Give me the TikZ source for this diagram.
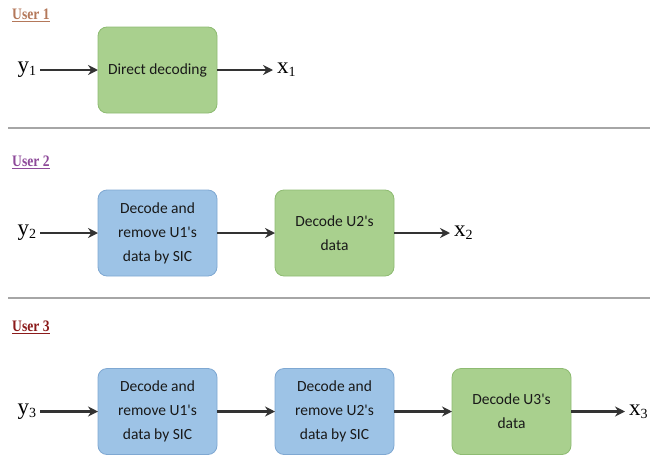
\documentclass[tikz,border=0pt]{standalone}
\usepackage{fontspec}
\setmainfont{Liberation Serif}
\newfontfamily\boxfont{Carlito}
\usetikzlibrary{positioning,arrows.meta}

\definecolor{boxgreen}{HTML}{A9D08E}
\definecolor{greenline}{HTML}{8EBB72}
\definecolor{boxblue}{HTML}{9DC3E6}
\definecolor{blueline}{HTML}{7FA8D2}
\definecolor{userone}{HTML}{B4785A}
\definecolor{usertwo}{HTML}{8E4A9A}
\definecolor{userthree}{HTML}{8B1A1A}
\definecolor{rulegray}{HTML}{A6A6A6}

\newcommand{\sigl}[2]{#1\raisebox{-3pt}{\fontsize{14}{14}\selectfont #2}}
\newcommand{\userhead}[1]{\scalebox{0.85}[1]{\underline{#1}}}

\begin{document}
\begin{tikzpicture}[x=1pt,y=-1pt,
      greenbox/.style={draw=greenline,fill=boxgreen,rounded corners=9pt,minimum width=119pt,
        minimum height=86pt,align=center,font=\boxfont\fontsize{15.5}{24}\selectfont,
        text=black!90,inner sep=0pt,outer sep=0pt,line width=0.8pt},
      bluebox/.style={greenbox,draw=blueline,fill=boxblue},
      sig/.style={font=\fontsize{23}{23}\selectfont,inner sep=0pt,outer sep=4pt},
      flow/.style={line width=2.6pt,draw=black!80,-{Stealth[length=10pt,width=10pt]}},
      userlab/.style={anchor=west,font=\bfseries\fontsize{16}{16}\selectfont,inner sep=0pt},
      divider/.style={draw=rulegray,line width=2.5pt}]

      \useasboundingbox (0,0) rectangle (650,458);

      % user 1
      \node[userlab,text=userone] (u1) at (12,15) {\userhead{User 1}};
      \node[greenbox] (dd1) at (157.5,70) {Direct decoding};
      \node[sig,left=58pt of dd1] (y1) {\sigl{y}{1}};
      \node[sig,right=56pt of dd1] (x1) {\sigl{x}{1}};
      \draw[flow] (y1) -- (dd1);
      \draw[flow] (dd1) -- (x1);

      \draw[divider] (8,128) -- (650,128);

      % user 2
      \node[userlab,text=usertwo] (u2) at (12,162) {\userhead{User 2}};
      \node[bluebox] (sic21) at (157.5,233) {Decode and\\remove U1's\\data by SIC};
      \node[greenbox,right=58pt of sic21] (dd2) {Decode U2's\\data};
      \node[sig,left=58pt of sic21] (y2) {\sigl{y}{2}};
      \node[sig,right=56pt of dd2] (x2) {\sigl{x}{2}};
      \draw[flow] (y2) -- (sic21);
      \draw[flow] (sic21) -- (dd2);
      \draw[flow] (dd2) -- (x2);

      \draw[divider] (8,298) -- (650,298);

      % user 3
      \node[userlab,text=userthree] (u3) at (12,327) {\userhead{User 3}};
      \node[bluebox] (sic31) at (157.5,411.5) {Decode and\\remove U1's\\data by SIC};
      \node[bluebox,right=58pt of sic31] (sic32) {Decode and\\remove U2's\\data by SIC};
      \node[greenbox,right=58pt of sic32] (dd3) {Decode U3's\\data};
      \node[sig,left=58pt of sic31] (y3) {\sigl{y}{3}};
      \node[sig,right=54pt of dd3] (x3) {\sigl{x}{3}};
      \draw[flow] (y3) -- (sic31);
      \draw[flow] (sic31) -- (sic32);
      \draw[flow] (sic32) -- (dd3);
      \draw[flow] (dd3) -- (x3);

    \end{tikzpicture}
\end{document}
